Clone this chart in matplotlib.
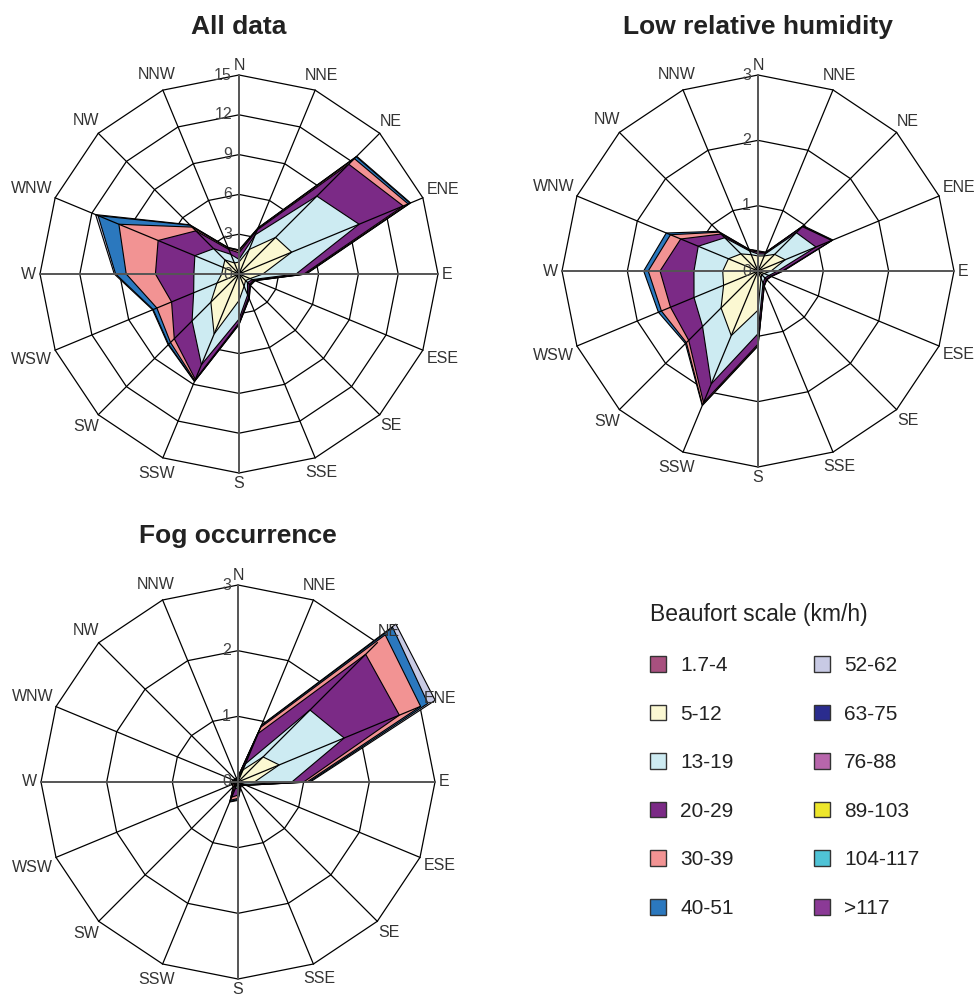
import numpy as np
import matplotlib.pyplot as plt
from matplotlib.patches import Polygon, Patch

plt.rcParams['font.family'] = ['Liberation Sans', 'DejaVu Sans']

directions = ['N', 'NNE', 'NE', 'ENE', 'E', 'ESE', 'SE', 'SSE',
              'S', 'SSW', 'SW', 'WSW', 'W', 'WNW', 'NW', 'NNW']
beaufort = ['1.7-4', '5-12', '13-19', '20-29', '30-39', '40-51',
            '52-62', '63-75', '76-88', '89-103', '104-117', '>117']
colors = ['#a8507f', '#fbf8d2', '#cdebf2', '#7b2a86', '#f29393', '#2b78be',
          '#c8cae4', '#2a2c8e', '#b866ac', '#ede62a', '#4fc3d6', '#8b3a96']

# frequency (%) of each Beaufort class per direction (N clockwise)
# --- all data ---
all_b1 = [0.15, 0.20, 0.25, 0.25, 0.20, 0.15, 0.10, 0.15, 0.15, 0.20, 0.20, 0.15, 0.15, 0.15, 0.15, 0.10]
all_b2 = [0.75, 1.80, 3.65, 4.05, 1.60, 0.75, 0.60, 0.85, 1.85, 4.70, 2.80, 1.65, 1.15, 1.15, 1.35, 0.80]
all_b3 = [0.20, 1.20, 4.40, 5.50, 2.50, 0.20, 0.20, 0.70, 1.40, 2.50, 2.00, 1.90, 2.10, 2.30, 1.20, 0.70]
all_b4 = [0.50, 0.40, 3.40, 3.60, 0.60, 0.10, 0.20, 0.20, 0.30, 1.20, 1.90, 1.80, 2.90, 3.00, 1.90, 0.40]
all_b5 = [0.15, 0.10, 0.60, 0.40, 0.10, 0.05, 0.05, 0.05, 0.05, 0.10, 0.40, 1.20, 2.20, 3.20, 0.40, 0.10]
all_b6 = [0.05, 0.05, 0.20, 0.15, 0.05, 0.05, 0.05, 0.05, 0.05, 0.05, 0.20, 0.30, 0.80, 1.70, 0.20, 0.05]
all_b7 = [0.02, 0.02, 0.05, 0.05, 0.02, 0.02, 0.02, 0.02, 0.02, 0.02, 0.05, 0.05, 0.10, 0.20, 0.05, 0.02]

# --- low relative humidity ---
low_b1 = [0.03, 0.03, 0.03, 0.03, 0.03, 0.03, 0.03, 0.03, 0.03, 0.03, 0.03, 0.03, 0.03, 0.03, 0.03, 0.03]
low_b2 = [0.20, 0.22, 0.33, 0.42, 0.17, 0.07, 0.05, 0.09, 0.57, 1.04, 0.77, 0.54, 0.51, 0.46, 0.34, 0.24]
low_b3 = [0.03, 0.03, 0.47, 0.51, 0.10, 0.08, 0.07, 0.08, 0.36, 0.80, 0.40, 0.49, 0.44, 0.50, 0.35, 0.06]
low_b4 = [0.03, 0.02, 0.13, 0.26, 0.07, 0.03, 0.03, 0.04, 0.16, 0.31, 0.30, 0.39, 0.52, 0.29, 0.08, 0.01]
low_b5 = [0.01, 0.01, 0.01, 0.01, 0.01, 0.01, 0.01, 0.01, 0.02, 0.04, 0.05, 0.15, 0.18, 0.17, 0.04, 0.02]
low_b6 = [0.01, 0.00, 0.01, 0.01, 0.01, 0.00, 0.00, 0.00, 0.01, 0.01, 0.02, 0.05, 0.07, 0.07, 0.02, 0.00]

# --- fog occurrence ---
fog_b1 = [0.02, 0.02, 0.02, 0.02, 0.02, 0.02, 0.02, 0.02, 0.02, 0.02, 0.02, 0.02, 0.02, 0.02, 0.02, 0.02]
fog_b2 = [0.03, 0.18, 0.52, 0.66, 0.23, 0.03, 0.01, 0.01, 0.03, 0.03, 0.01, 0.01, 0.01, 0.01, 0.01, 0.01]
fog_b3 = [0.01, 0.10, 1.01, 1.07, 0.57, 0.05, 0.02, 0.03, 0.05, 0.05, 0.02, 0.02, 0.02, 0.02, 0.01, 0.01]
fog_b4 = [0.01, 0.50, 1.20, 0.91, 0.18, 0.02, 0.01, 0.02, 0.10, 0.15, 0.02, 0.02, 0.03, 0.01, 0.01, 0.01]
fog_b5 = [0.01, 0.10, 0.42, 0.35, 0.05, 0.01, 0.01, 0.01, 0.05, 0.05, 0.03, 0.02, 0.02, 0.01, 0.01, 0.01]
fog_b6 = [0.00, 0.03, 0.16, 0.12, 0.03, 0.00, 0.00, 0.01, 0.02, 0.02, 0.00, 0.01, 0.01, 0.00, 0.00, 0.00]
fog_b7 = [0.00, 0.01, 0.07, 0.12, 0.02, 0.00, 0.00, 0.00, 0.01, 0.01, 0.00, 0.00, 0.00, 0.00, 0.00, 0.00]

W, H = 979, 996
fig = plt.figure(figsize=(W / 100, H / 100), dpi=100)

# rough char widths (em) for placing direction labels
cw = {'N': 0.722, 'E': 0.667, 'S': 0.667, 'W': 0.944}
DIR_FS = 11.5


def rose(cx, cy, rpx, rmax, step, freqs, title, ty):
    h = 245
    ax = fig.add_axes([(cx - h) / W, 1 - (cy + h) / H, 2 * h / W, 2 * h / H])
    sc = rpx / rmax  # pixels per unit
    lim = h / sc
    ax.set_xlim(-lim, lim)
    ax.set_ylim(-lim, lim)
    ax.axis('off')

    th = np.arange(16) * 2 * np.pi / 16
    sx, sy = np.sin(th), np.cos(th)

    # rings
    for r in np.arange(step, rmax + step / 2, step):
        ax.add_patch(Polygon(np.column_stack([r * sx, r * sy]), closed=True,
                             fill=False, ec='black', lw=0.9, zorder=1))

    # stacked areas, outer first
    cum = np.cumsum(np.array(freqs), axis=0)
    for k in range(len(cum) - 1, -1, -1):
        r = cum[k]
        ax.add_patch(Polygon(np.column_stack([r * sx, r * sy]), closed=True,
                             fc=colors[k], ec='black', lw=0.8, zorder=2))

    # spokes
    for i in range(16):
        if i % 4 == 0:
            continue
        ax.plot([0, rmax * sx[i]], [0, rmax * sy[i]], color='black', lw=0.9, zorder=3)
    ax.plot([0, 0], [-rmax, rmax], color='#555555', lw=1.4, zorder=3)
    ax.plot([-rmax, rmax], [0, 0], color='#555555', lw=1.4, zorder=3)

    # radial tick labels
    for v in np.arange(0, rmax + step / 2, step):
        ax.text(-7 / sc, v, '%g' % v, ha='right', va='center', fontsize=11.5,
                color='#444444', zorder=4)

    # direction labels
    for i, d in enumerate(directions):
        w = sum(cw[c] for c in d) * DIR_FS * 1.39
        rl = rpx + 4 + w / 2 * abs(sx[i]) + 6 * abs(sy[i])
        ax.text(rl / sc * sx[i], rl / sc * sy[i], d, ha='center', va='center',
                fontsize=DIR_FS, color='#333333', clip_on=False)

    fig.text(cx / W, 1 - ty / H, title, ha='center', va='center',
             fontsize=19, fontweight='bold', color='#222222')


rose(239, 274, 199, 15, 3,
     [all_b1, all_b2, all_b3, all_b4, all_b5, all_b6, all_b7], 'All data', 27)
rose(758, 271, 196, 3, 1,
     [low_b1, low_b2, low_b3, low_b4, low_b5, low_b6], 'Low relative humidity', 27)
rose(238, 782, 197, 3, 1,
     [fog_b1, fog_b2, fog_b3, fog_b4, fog_b5, fog_b6, fog_b7], 'Fog occurrence', 536)

handles = [Patch(fc=c, ec='#333333', lw=1) for c in colors]
leg = fig.legend(handles, beaufort, ncol=2, loc='upper left',
                 bbox_to_anchor=(640 / W, 1 - 593 / H), frameon=False,
                 fontsize=15, title='Beaufort scale (km/h)', title_fontsize=16.5,
                 handlelength=0.77, handleheight=0.77, handletextpad=0.67,
                 labelspacing=1.42, columnspacing=3.85, borderpad=0)
leg._legend_box.align = 'left'
for t in leg.get_texts():
    t.set_color('#222222')
leg.get_title().set_color('#222222')

fig.savefig('out.png', dpi=100)
